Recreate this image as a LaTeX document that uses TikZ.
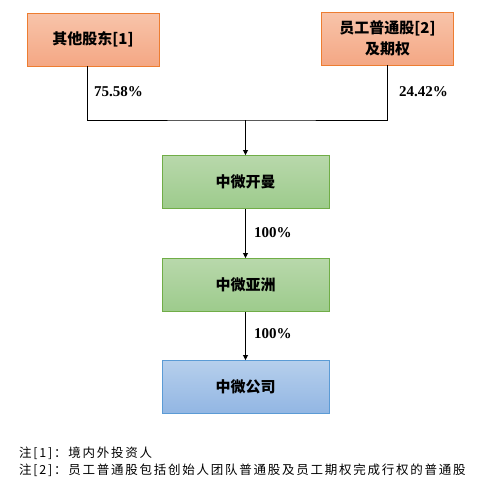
\documentclass[tikz,border=0pt]{standalone}
\usepackage{fontspec}
\setmainfont{Liberation Serif}
\newfontfamily\cjk{Noto Sans CJK SC}
\newfontfamily\cjknote[LetterSpace=14]{Noto Sans CJK SC}
\usetikzlibrary{arrows.meta}
\definecolor{orTop}{HTML}{F8C4AA}
\definecolor{orBot}{HTML}{F4A784}
\definecolor{orLine}{HTML}{ED7D31}
\definecolor{grTop}{HTML}{B8D8AB}
\definecolor{grBot}{HTML}{9DCB8C}
\definecolor{grLine}{HTML}{70AD47}
\definecolor{blTop}{HTML}{B6CFEC}
\definecolor{blBot}{HTML}{92B6E3}
\definecolor{blLine}{HTML}{5B9BD5}
\begin{document}
\begin{tikzpicture}[x=1pt,y=-1pt,
  box/.style={minimum width=132pt,minimum height=53pt,inner sep=0pt,align=center,
    font=\cjk\bfseries\fontsize{15}{21}\selectfont,line width=0.9pt},
  orbox/.style={box,draw=orLine,top color=orTop,bottom color=orBot},
  grbox/.style={box,draw=grLine,top color=grTop,bottom color=grBot,minimum width=167pt},
  blbox/.style={box,draw=blLine,top color=blTop,bottom color=blBot,minimum width=167pt},
  conn/.style={line width=0.8pt,black},
  arr/.style={conn,-{Triangle[length=5pt,width=5pt]}},
  pct/.style={font=\bfseries\fontsize{15}{17}\selectfont,inner sep=0pt},
  note/.style={font=\cjknote\fontsize{12.5}{14}\selectfont,anchor=west,inner sep=0pt}]
\useasboundingbox (0,0) rectangle (481,499);
\node[orbox] (a) at (93,39.5) {其他股东[1]};
\node[orbox] (b) at (387.5,38.5) {员工普通股[2]\\及期权};
\node[grbox] (c) at (245.5,182) {中微开曼};
\node[grbox] (d) at (245.5,285) {中微亚洲};
\node[blbox] (e) at (245.5,387) {中微公司};
\coordinate (j) at (245.5,120);
\draw[conn] ([xshift=-6pt]a.south) |- (j) -| (b.south);
\draw[arr] (j) -- (c.north);
\draw[arr] (c.south) -- (d.north);
\draw[arr] (d.south) -- (e.north);
\node[pct,anchor=west] (p1) at (94,92) {75.58\%};
\node[pct,anchor=west] (p2) at (399,92) {24.42\%};
\node[pct,anchor=west] (p3) at (254,233) {100\%};
\node[pct,anchor=west] (p4) at (254,334) {100\%};
\node[note] (n1) at (19,453) {注[1]：境内外投资人};
\node[note] (n2) at (19,470) {注[2]：员工普通股包括创始人团队普通股及员工期权完成行权的普通股};
\end{tikzpicture}
\end{document}
